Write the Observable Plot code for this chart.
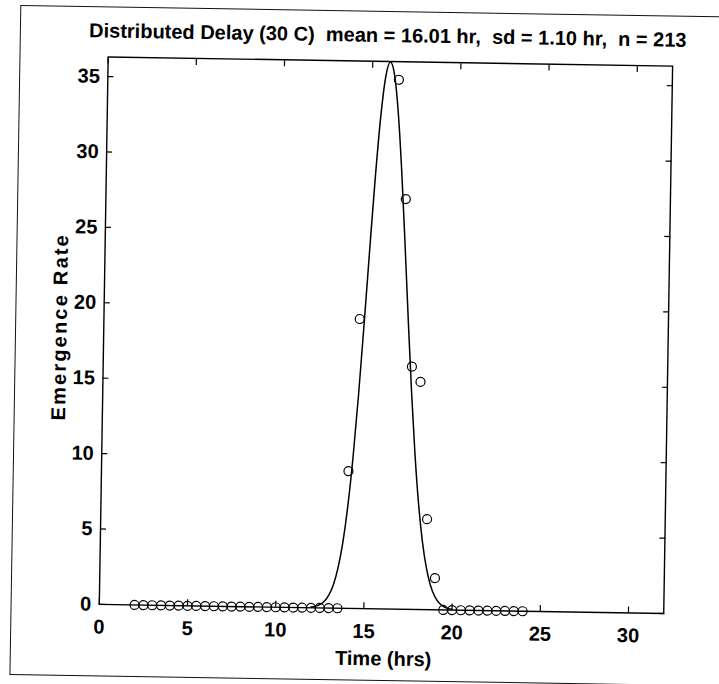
<!DOCTYPE html>
<html><head><meta charset="utf-8">
<script src="https://cdn.jsdelivr.net/npm/d3@7"></script>
<script src="https://cdn.jsdelivr.net/npm/@observablehq/plot@0.6"></script>
<style>
html,body{margin:0;padding:0;background:#fff;overflow:hidden;width:719px;height:684px;}
#page{position:relative;width:719px;height:684px;transform:rotate(0.93deg);transform-origin:386px 335px;}
#border{position:absolute;left:15px;top:11px;width:760px;height:670px;border:1.6px solid #111;box-sizing:border-box;}
#chart{position:absolute;left:0;top:0;}
#title{position:absolute;left:83px;width:600px;top:23px;text-align:center;white-space:pre;font:bold 20px "Liberation Sans",Arial,sans-serif;line-height:24px;color:#000;}
</style></head><body>
<div id="page"><div id="border"></div><div id="chart"></div><div id="title"></div></div>
<script>
const titleText = "Distributed Delay (30 C)  mean = 16.01 hr,  sd = 1.10 hr,  n = 213";
const xLabel = "Time (hrs)";
const yLabel = "Emergence Rate";
const xTicks = [0, 5, 10, 15, 20, 25, 30];
const yTicks = [0, 5, 10, 15, 20, 25, 30, 35];
const xDomain = [0, 32];
const yDomain = [0, 36.3];

// observed emergence rates (circles)
const obsTime = [2, 2.5, 3, 3.5, 4, 4.5, 5, 5.5, 6, 6.5, 7, 7.5, 8, 8.5, 9, 9.5, 10, 10.5, 11, 11.5, 12, 12.5, 13, 13.5,
  14, 14.5, 16.5, 17, 17.5, 18, 18.5, 19,
  19.5, 20, 20.5, 21, 21.5, 22, 22.5, 23, 23.5, 24];
const obsRate = [0, 0, 0, 0, 0, 0, 0, 0, 0, 0, 0, 0, 0, 0, 0, 0, 0, 0, 0, 0, 0, 0, 0, 0,
  9.1, 19.2, 35.1, 27.2, 16.1, 15.1, 6.0, 2.1,
  0, 0, 0, 0, 0, 0, 0, 0, 0, 0];

// fitted distributed-delay curve
const fitTime = [12, 12.25, 12.5, 12.75, 13, 13.25, 13.5, 13.75, 14, 14.25, 14.5, 14.75, 15, 15.25, 15.5, 15.75, 16,
  16.25, 16.5, 16.75, 17, 17.25, 17.5, 17.75, 18, 18.25, 18.5, 18.75, 19, 19.25, 19.5, 19.75, 20];
const fitRate = [0.05, 0.11, 0.22, 0.45, 0.86, 1.56, 2.69, 4.39, 6.83, 10.08, 14.14, 18.82, 23.80, 28.57, 32.57, 35.27, 36.27,
  35.42, 32.85, 28.93, 24.19, 19.21, 14.49, 10.38, 7.06, 4.56, 2.80, 1.63, 0.90, 0.47, 0.24, 0.11, 0.05];

const obs = obsTime.map((t, i) => ({t, r: obsRate[i]}));
const fit = fitTime.map((t, i) => ({t, r: fitRate[i]}));

document.getElementById("title").textContent = titleText;

const font = '"Liberation Sans", Arial, Helvetica, sans-serif';
const blank = () => "";

const chart = Plot.plot({
  width: 719,
  height: 684,
  marginTop: 61,
  marginBottom: 75.5,
  marginLeft: 103.2,
  marginRight: 51.3,
  style: {fontFamily: font, fontSize: "20px", fontWeight: "bold", background: "transparent", color: "#000", overflow: "visible"},
  x: {domain: xDomain, ticks: xTicks},
  y: {domain: yDomain, ticks: yTicks},
  marks: [
    // inward ticks on all four sides
    Plot.axisX(xTicks, {anchor: "bottom", tickSize: 6, dy: -6, tickFormat: blank, label: null, strokeWidth: 1.2}),
    Plot.axisX(xTicks, {anchor: "top", tickSize: 6, dy: 6, tickFormat: blank, label: null, strokeWidth: 1.2}),
    Plot.axisY(yTicks, {anchor: "left", tickSize: 6, dx: 6, tickFormat: blank, label: null, strokeWidth: 1.2}),
    Plot.axisY(yTicks, {anchor: "right", tickSize: 6, dx: -6, tickFormat: blank, label: null, strokeWidth: 1.2}),
    // tick labels
    Plot.axisX(xTicks, {anchor: "bottom", tickSize: 0, tickPadding: 15, label: null}),
    Plot.axisY(yTicks, {anchor: "left", tickSize: 0, tickPadding: 8, label: null}),
    Plot.frame({stroke: "#000", strokeWidth: 1.4}),
    Plot.line(fit, {x: "t", y: "r", stroke: "#000", strokeWidth: 1.5, curve: "monotone-x"}),
    Plot.dot(obs, {x: "t", y: "r", r: 4.5, stroke: "#000", strokeWidth: 1.2, fill: "none"}),
    Plot.text([xLabel], {frameAnchor: "bottom", dy: 56.5, dx: 2.5, lineAnchor: "bottom", textAnchor: "middle", fontSize: 20, fontWeight: "bold"}),
    Plot.text([yLabel], {frameAnchor: "left", rotate: -90, dx: -37.2, dy: -3.2, lineAnchor: "bottom", textAnchor: "middle", fontSize: 20, fontWeight: "bold"})
  ]
});
document.getElementById("chart").appendChild(chart);
d3.select(chart).selectAll("text").filter(function() { return this.textContent === yLabel; })
  .attr("letter-spacing", "2.2px");
</script>
</body></html>
